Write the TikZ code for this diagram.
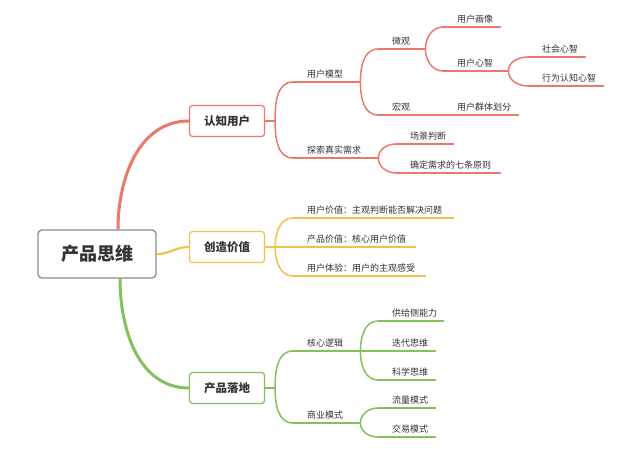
\documentclass[tikz,border=0pt]{standalone}
\usepackage{fontspec}
\setmainfont{Noto Sans CJK SC}
\usetikzlibrary{positioning}
\definecolor{hong}{HTML}{E8796B}
\definecolor{huang}{HTML}{F1C24A}
\definecolor{lv}{HTML}{82C15C}
\definecolor{huise}{HTML}{8A8A99}
\definecolor{wenzi}{HTML}{333333}

\begin{document}
\begin{tikzpicture}[x=1pt, y=1pt,
  root/.style={
    draw=huise, fill=white, rounded corners=4pt, line width=1.3pt,
    minimum width=118pt, minimum height=48pt, text=wenzi,
    font=\fontsize{18}{20}\selectfont\bfseries
  },
  box/.style={
    draw=#1, fill=white, rounded corners=3pt, line width=1.2pt,
    minimum width=75pt, minimum height=31pt, text=wenzi,
    font=\fontsize{11.5}{13}\selectfont\bfseries
  },
  tp/.style={
    anchor=south west, inner xsep=0pt, inner ysep=3.5pt,
    text width=#1, align=left, text=wenzi,
    font=\fontsize{9}{10}\selectfont,
    execute at begin node={\hspace*{14pt}}
  },
  zhi/.style={draw=#1, line width=1.5pt, line cap=round},
  gan/.style={draw=#1, line width=3pt}
]
  \useasboundingbox (0,0) rectangle (640,449);
  \fill[white] (0,0) rectangle (640,449);

  \node[root] (root) at (97,195) {产品思维};
  \node[box=hong]  (b1) at (227,328) {认知用户};
  \node[box=huang] (b2) at (227,202) {创造价值};
  \node[box=lv]    (b3) at (227,61)  {产品落地};

  \draw[gan=hong] ([xshift=21pt]root.north) to[out=90,in=180] (b1.west);
  \draw[gan=huang, line width=2.2pt] (root.east) to[out=0,in=180] (b2.west);
  \draw[gan=lv] ([xshift=23pt]root.south) to[out=-90,in=180] (b3.west);

  % 认知用户
  \node[tp=67pt]  (um) at (293,367) {用户模型};
  \node[tp=85pt]  (ts) at (293,291) {探索真实需求};
  \node[tp=47pt]  (wg) at (378,400) {微观};
  \node[tp=47pt]  (hg) at (378,334) {宏观};
  \node[tp=75pt]  (qt) at (443,334) {用户群体划分};
  \node[tp=57pt]  (yh) at (443,422) {用户画像};
  \node[tp=65pt]  (yx) at (443,378) {用户心智};
  \node[tp=57pt]  (sh) at (528,392) {社会心智};
  \node[tp=75pt]  (xw) at (528,363) {行为认知心智};
  \node[tp=57pt]  (cj) at (396,305) {场景判断};
  \node[tp=104pt] (qd) at (396,276) {确定需求的七条原则};

  \foreach \n in {um,ts,wg,hg,qt,yh,yx,sh,xw,cj,qd}
    \draw[zhi=hong] (\n.south west) -- (\n.south east);
  \draw[zhi=hong] (b1.east) -- ++(10,0) coordinate (f1);
  \draw[zhi=hong] (f1) to[out=90,in=180] (um.south west);
  \draw[zhi=hong] (f1) to[out=-90,in=180] (ts.south west);
  \draw[zhi=hong] (um.south east) to[out=90,in=180] (wg.south west);
  \draw[zhi=hong] (um.south east) to[out=-90,in=180] (hg.south west);
  \draw[zhi=hong] (hg.south east) -- (qt.south west);
  \draw[zhi=hong] (wg.south east) to[out=90,in=180] (yh.south west);
  \draw[zhi=hong] (wg.south east) to[out=-90,in=180] (yx.south west);
  \draw[zhi=hong] (yx.south east) to[out=90,in=180] (sh.south west);
  \draw[zhi=hong] (yx.south east) to[out=-90,in=180] (xw.south west);
  \draw[zhi=hong] (ts.south east) to[out=90,in=180] (cj.south west);
  \draw[zhi=hong] (ts.south east) to[out=-90,in=180] (qd.south west);

  % 创造价值
  \node[tp=160pt] (y1) at (293,231) {用户价值：主观判断能否解决问题};
  \node[tp=122pt] (y2) at (293,202) {产品价值：核心用户价值};
  \node[tp=132pt] (y3) at (293,173) {用户体验：用户的主观感受};

  \foreach \n in {y1,y2,y3}
    \draw[zhi=huang] (\n.south west) -- (\n.south east);
  \draw[zhi=huang] (b2.east) -- ++(10,0) coordinate (f2);
  \draw[zhi=huang] (f2) to[out=90,in=180] (y1.south west);
  \draw[zhi=huang] (f2) -- (y2.south west);
  \draw[zhi=huang] (f2) to[out=-90,in=180] (y3.south west);

  % 产品落地
  \node[tp=67pt] (hx) at (293,98)  {核心逻辑};
  \node[tp=67pt] (sy) at (293,26)  {商业模式};
  \node[tp=65pt] (gj) at (378,128) {供给侧能力};
  \node[tp=57pt] (dd) at (378,98)  {迭代思维};
  \node[tp=57pt] (kx) at (378,69)  {科学思维};
  \node[tp=57pt] (ll) at (378,41)  {流量模式};
  \node[tp=57pt] (jy) at (378,12)  {交易模式};

  \foreach \n in {hx,sy,gj,dd,kx,ll,jy}
    \draw[zhi=lv] (\n.south west) -- (\n.south east);
  \draw[zhi=lv] (b3.east) -- ++(10,0) coordinate (f3);
  \draw[zhi=lv] (f3) to[out=90,in=180] (hx.south west);
  \draw[zhi=lv] (f3) to[out=-90,in=180] (sy.south west);
  \draw[zhi=lv] (hx.south east) to[out=90,in=180] (gj.south west);
  \draw[zhi=lv] (hx.south east) -- (dd.south west);
  \draw[zhi=lv] (hx.south east) to[out=-90,in=180] (kx.south west);
  \draw[zhi=lv] (sy.south east) to[out=90,in=180] (ll.south west);
  \draw[zhi=lv] (sy.south east) to[out=-90,in=180] (jy.south west);
\end{tikzpicture}
\end{document}
